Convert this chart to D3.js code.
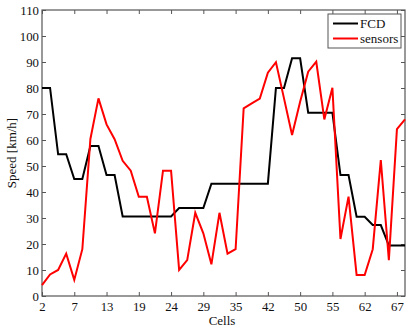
<!DOCTYPE html>
<html><head><meta charset="utf-8">
<script src="https://cdn.jsdelivr.net/npm/d3@7"></script>
<style>body{margin:0;background:#fff}svg{display:block}text{font-family:"Liberation Serif","DejaVu Serif",serif}</style>
</head><body>
<svg id="c" width="411" height="327"></svg>
<script>
// Cell positions are indices 0..45; tick labels are cell ids shown every 4th index
const tickIndex = [0,4,8,12,16,20,24,28,32,36,40,44];
const tickLabels = ["2","7","13","19","24","29","35","42","50","55","62","67"];
const yTicks = [0,10,20,30,40,50,60,70,80,90,100,110];
const fcd = [80,80,54.5,54.5,45,45,57.7,57.7,46.5,46.5,30.6,30.6,30.6,30.6,30.6,30.6,30.6,33.8,33.8,33.8,33.8,43.2,43.2,43.2,43.2,43.2,43.2,43.2,43.2,80,80,91.4,91.4,70.5,70.5,70.5,70.5,46.5,46.5,30.5,30.5,27.3,27.3,19.4,19.4,19.4];
const sensors = [4.2,8.3,10,16.3,6.2,18,60.4,76,66,60.3,52,48.2,38.2,38.2,24.1,48.2,48.2,10,13.8,32,24.1,12.2,32,16.3,18,72.2,74.1,75.9,85.9,89.9,76,61.9,74.7,86.3,90.1,67.9,80.1,21.9,38.2,8.1,8.1,18,52.3,13.8,64.2,67.9];
const seriesNames = ["FCD","sensors"];
const seriesColors = ["#000000","#ff0000"];

const svg = d3.select("#c");
const L=42, R=405, T=10, B=296;
const x = d3.scaleLinear().domain([0,45]).range([L,R]);
const y = d3.scaleLinear().domain([0,110]).range([B,T]);
const axisCol = "#555";
const fs = "12.8px";

svg.append("rect").attr("x",L).attr("y",T).attr("width",R-L).attr("height",B-T)
  .attr("fill","none").attr("stroke",axisCol).attr("stroke-width",1.2);

const xb = svg.append("g").attr("transform",`translate(0,${B})`)
  .call(d3.axisBottom(x).tickValues(tickIndex).tickFormat((d,i)=>tickLabels[i]).tickSizeInner(-4).tickSizeOuter(0).tickPadding(5.5));
const xt = svg.append("g").attr("transform",`translate(0,${T})`)
  .call(d3.axisTop(x).tickValues(tickIndex).tickFormat("").tickSizeInner(-4).tickSizeOuter(0));
const yl = svg.append("g").attr("transform",`translate(${L},0)`)
  .call(d3.axisLeft(y).tickValues(yTicks).tickSizeInner(-4).tickSizeOuter(0).tickPadding(3));
const yr = svg.append("g").attr("transform",`translate(${R},0)`)
  .call(d3.axisRight(y).tickValues(yTicks).tickFormat("").tickSizeInner(-4).tickSizeOuter(0));
[xb,xt,yl,yr].forEach(g=>{
  g.select(".domain").remove();
  g.selectAll("line").attr("stroke",axisCol);
  g.selectAll("text").attr("fill","#111").style("font-size",fs).style("font-family","'Liberation Serif',serif");
});

const line = d3.line().x((d,i)=>x(i)).y(d=>y(d));
svg.append("path").datum(fcd).attr("d",line).attr("fill","none").attr("stroke",seriesColors[0]).attr("stroke-width",2);
svg.append("path").datum(sensors).attr("d",line).attr("fill","none").attr("stroke",seriesColors[1]).attr("stroke-width",2);

svg.append("text").attr("x",222).attr("y",324.5).attr("text-anchor","middle").style("font-size","13px").attr("fill","#111").text("Cells");
svg.append("text").attr("transform",`translate(15.5,${(T+B)/2}) rotate(-90)`).attr("text-anchor","middle").style("font-size","13px").attr("fill","#111").text("Speed [km/h]");

const lg = svg.append("g");
lg.append("rect").attr("x",328).attr("y",14).attr("width",73).attr("height",34).attr("fill","#fff").attr("stroke",axisCol).attr("stroke-width",1);
seriesNames.forEach((n,i)=>{
  const yy = 23.5 + i*15;
  lg.append("line").attr("x1",333).attr("x2",358).attr("y1",yy).attr("y2",yy).attr("stroke",seriesColors[i]).attr("stroke-width",2);
  lg.append("text").attr("x",360).attr("y",yy+4.5).style("font-size","13px").attr("fill","#111").text(n);
});
</script>
</body></html>
